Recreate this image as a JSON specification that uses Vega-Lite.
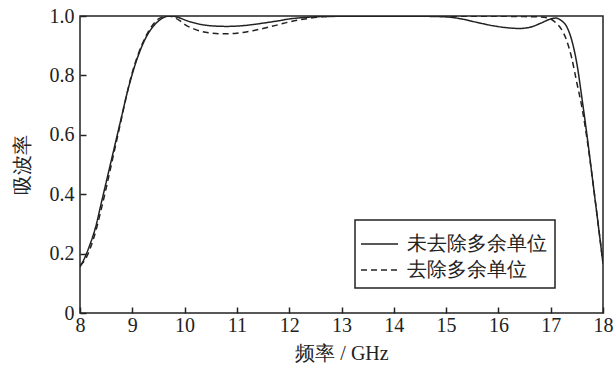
{
  "$schema": "https://vega.github.io/schema/vega-lite/v6.json",
  "width": 523,
  "height": 297,
  "autosize": {"type": "none"},
  "padding": {"left": 80, "top": 16, "right": 12, "bottom": 54},
  "background": "white",
  "config": {
    "font": "Times New Roman",
    "view": {"stroke": "#222", "strokeWidth": 1.5},
    "axis": {
      "domain": false,
      "tickColor": "#222",
      "tickWidth": 1.5,
      "grid": false,
      "labelFontSize": 20,
      "labelColor": "#222",
      "titleFontSize": 20,
      "titleFontWeight": "normal",
      "titleColor": "#222"
    }
  },
  "datasets": {
    "curves": [
      {"f": 8.0, "a": 0.155, "s": "未去除多余单位"},
      {"f": 8.1, "a": 0.19, "s": "未去除多余单位"},
      {"f": 8.2, "a": 0.235, "s": "未去除多余单位"},
      {"f": 8.3, "a": 0.29, "s": "未去除多余单位"},
      {"f": 8.4, "a": 0.365, "s": "未去除多余单位"},
      {"f": 8.5, "a": 0.44, "s": "未去除多余单位"},
      {"f": 8.6, "a": 0.515, "s": "未去除多余单位"},
      {"f": 8.7, "a": 0.59, "s": "未去除多余单位"},
      {"f": 8.8, "a": 0.665, "s": "未去除多余单位"},
      {"f": 8.9, "a": 0.74, "s": "未去除多余单位"},
      {"f": 9.0, "a": 0.805, "s": "未去除多余单位"},
      {"f": 9.1, "a": 0.86, "s": "未去除多余单位"},
      {"f": 9.2, "a": 0.905, "s": "未去除多余单位"},
      {"f": 9.3, "a": 0.94, "s": "未去除多余单位"},
      {"f": 9.4, "a": 0.965, "s": "未去除多余单位"},
      {"f": 9.5, "a": 0.983, "s": "未去除多余单位"},
      {"f": 9.6, "a": 0.995, "s": "未去除多余单位"},
      {"f": 9.7, "a": 1.0, "s": "未去除多余单位"},
      {"f": 9.8, "a": 0.999, "s": "未去除多余单位"},
      {"f": 9.9, "a": 0.994, "s": "未去除多余单位"},
      {"f": 10.0, "a": 0.987, "s": "未去除多余单位"},
      {"f": 10.2, "a": 0.976, "s": "未去除多余单位"},
      {"f": 10.4, "a": 0.969, "s": "未去除多余单位"},
      {"f": 10.6, "a": 0.966, "s": "未去除多余单位"},
      {"f": 10.8, "a": 0.965, "s": "未去除多余单位"},
      {"f": 11.0, "a": 0.966, "s": "未去除多余单位"},
      {"f": 11.2, "a": 0.969, "s": "未去除多余单位"},
      {"f": 11.5, "a": 0.976, "s": "未去除多余单位"},
      {"f": 11.8, "a": 0.984, "s": "未去除多余单位"},
      {"f": 12.0, "a": 0.99, "s": "未去除多余单位"},
      {"f": 12.3, "a": 0.995, "s": "未去除多余单位"},
      {"f": 12.6, "a": 0.998, "s": "未去除多余单位"},
      {"f": 13.0, "a": 0.999, "s": "未去除多余单位"},
      {"f": 13.5, "a": 0.999, "s": "未去除多余单位"},
      {"f": 14.0, "a": 0.999, "s": "未去除多余单位"},
      {"f": 14.5, "a": 0.999, "s": "未去除多余单位"},
      {"f": 15.0, "a": 0.997, "s": "未去除多余单位"},
      {"f": 15.3, "a": 0.99, "s": "未去除多余单位"},
      {"f": 15.6, "a": 0.978, "s": "未去除多余单位"},
      {"f": 15.9, "a": 0.967, "s": "未去除多余单位"},
      {"f": 16.2, "a": 0.96, "s": "未去除多余单位"},
      {"f": 16.4, "a": 0.958, "s": "未去除多余单位"},
      {"f": 16.6, "a": 0.962, "s": "未去除多余单位"},
      {"f": 16.8, "a": 0.975, "s": "未去除多余单位"},
      {"f": 17.0, "a": 0.99, "s": "未去除多余单位"},
      {"f": 17.1, "a": 0.993, "s": "未去除多余单位"},
      {"f": 17.2, "a": 0.985, "s": "未去除多余单位"},
      {"f": 17.3, "a": 0.966, "s": "未去除多余单位"},
      {"f": 17.4, "a": 0.92, "s": "未去除多余单位"},
      {"f": 17.5, "a": 0.84, "s": "未去除多余单位"},
      {"f": 17.6, "a": 0.72, "s": "未去除多余单位"},
      {"f": 17.7, "a": 0.59, "s": "未去除多余单位"},
      {"f": 17.8, "a": 0.45, "s": "未去除多余单位"},
      {"f": 17.9, "a": 0.31, "s": "未去除多余单位"},
      {"f": 18.0, "a": 0.167, "s": "未去除多余单位"},
      {"f": 8.0, "a": 0.16, "s": "去除多余单位"},
      {"f": 8.1, "a": 0.18, "s": "去除多余单位"},
      {"f": 8.2, "a": 0.22, "s": "去除多余单位"},
      {"f": 8.3, "a": 0.275, "s": "去除多余单位"},
      {"f": 8.4, "a": 0.345, "s": "去除多余单位"},
      {"f": 8.5, "a": 0.42, "s": "去除多余单位"},
      {"f": 8.6, "a": 0.5, "s": "去除多余单位"},
      {"f": 8.7, "a": 0.58, "s": "去除多余单位"},
      {"f": 8.8, "a": 0.66, "s": "去除多余单位"},
      {"f": 8.9, "a": 0.74, "s": "去除多余单位"},
      {"f": 9.0, "a": 0.81, "s": "去除多余单位"},
      {"f": 9.1, "a": 0.865, "s": "去除多余单位"},
      {"f": 9.2, "a": 0.91, "s": "去除多余单位"},
      {"f": 9.3, "a": 0.945, "s": "去除多余单位"},
      {"f": 9.4, "a": 0.972, "s": "去除多余单位"},
      {"f": 9.5, "a": 0.99, "s": "去除多余单位"},
      {"f": 9.6, "a": 0.998, "s": "去除多余单位"},
      {"f": 9.7, "a": 1.0, "s": "去除多余单位"},
      {"f": 9.8, "a": 0.995, "s": "去除多余单位"},
      {"f": 9.9, "a": 0.985, "s": "去除多余单位"},
      {"f": 10.0, "a": 0.972, "s": "去除多余单位"},
      {"f": 10.2, "a": 0.955, "s": "去除多余单位"},
      {"f": 10.4, "a": 0.945, "s": "去除多余单位"},
      {"f": 10.6, "a": 0.941, "s": "去除多余单位"},
      {"f": 10.8, "a": 0.94, "s": "去除多余单位"},
      {"f": 11.0, "a": 0.942, "s": "去除多余单位"},
      {"f": 11.2, "a": 0.947, "s": "去除多余单位"},
      {"f": 11.5, "a": 0.958, "s": "去除多余单位"},
      {"f": 11.8, "a": 0.971, "s": "去除多余单位"},
      {"f": 12.0, "a": 0.98, "s": "去除多余单位"},
      {"f": 12.3, "a": 0.99, "s": "去除多余单位"},
      {"f": 12.6, "a": 0.997, "s": "去除多余单位"},
      {"f": 13.0, "a": 0.999, "s": "去除多余单位"},
      {"f": 14.0, "a": 0.999, "s": "去除多余单位"},
      {"f": 15.0, "a": 0.999, "s": "去除多余单位"},
      {"f": 16.0, "a": 0.999, "s": "去除多余单位"},
      {"f": 16.5, "a": 0.998, "s": "去除多余单位"},
      {"f": 16.8, "a": 0.997, "s": "去除多余单位"},
      {"f": 17.0, "a": 0.99, "s": "去除多余单位"},
      {"f": 17.1, "a": 0.977, "s": "去除多余单位"},
      {"f": 17.2, "a": 0.957, "s": "去除多余单位"},
      {"f": 17.3, "a": 0.92, "s": "去除多余单位"},
      {"f": 17.4, "a": 0.86, "s": "去除多余单位"},
      {"f": 17.5, "a": 0.775, "s": "去除多余单位"},
      {"f": 17.6, "a": 0.69, "s": "去除多余单位"},
      {"f": 17.7, "a": 0.58, "s": "去除多余单位"},
      {"f": 17.8, "a": 0.45, "s": "去除多余单位"},
      {"f": 17.9, "a": 0.31, "s": "去除多余单位"},
      {"f": 18.0, "a": 0.167, "s": "去除多余单位"}
    ]
  },
  "data": {"name": "curves"},
  "mark": {"type": "line", "interpolate": "monotone", "strokeWidth": 1.5, "color": "#222", "clip": true},
  "encoding": {
    "x": {
      "field": "f",
      "type": "quantitative",
      "scale": {"domain": [8, 18], "nice": false},
      "axis": {
        "title": "频率 / GHz",
        "values": [8, 9, 10, 11, 12, 13, 14, 15, 16, 17, 18],
        "labelFont": "Times New Roman",
        "titleFont": "Times New Roman",
        "offset": -6,
        "tickSize": 6,
        "labelPadding": 2,
        "labelFlush": false,
        "titlePadding": 8
      }
    },
    "y": {
      "field": "a",
      "type": "quantitative",
      "scale": {"domain": [0, 1], "nice": false},
      "axis": {
        "title": "吸波率",
        "values": [0, 0.2, 0.4, 0.6, 0.8, 1.0],
        "labelExpr": "datum.value == 0 ? '0' : format(datum.value, '.1f')",
        "labelFont": "serif",
        "titleFont": "serif",
        "offset": -6,
        "tickSize": 6,
        "labelPadding": 6,
        "titlePadding": 17
      }
    },
    "strokeDash": {
      "field": "s",
      "type": "nominal",
      "scale": {"domain": ["未去除多余单位", "去除多余单位"], "range": [[1, 0], [6, 4]]},
      "legend": {
        "title": null,
        "orient": "none",
        "legendX": 275,
        "legendY": 204,
        "strokeColor": "#222",
        "fillColor": "white",
        "padding": 8,
        "symbolType": "M-1.2,0H1.27",
        "symbolSize": 900,
        "symbolStrokeWidth": 1.5,
        "symbolStrokeColor": "#222",
        "labelOffset": 12,
        "labelFont": "Times New Roman",
        "labelFontSize": 20,
        "labelColor": "#222",
        "rowPadding": -9,
        "encode": {"legend": {"update": {"strokeWidth": {"value": 1.5}}}}
      }
    }
  }
}
